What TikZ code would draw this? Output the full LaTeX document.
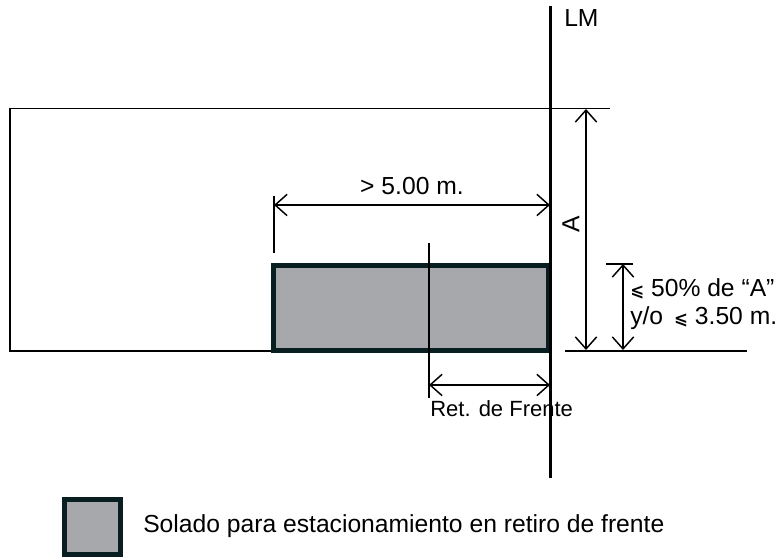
\documentclass[tikz,border=0pt]{standalone}
\usepackage{fontspec}
\setmainfont{Liberation Sans}
\newfontfamily\symfont{DejaVu Sans}
\usetikzlibrary{arrows.meta}
\definecolor{solado}{RGB}{166,168,171}
\definecolor{borde}{RGB}{8,30,32}
\tikzset{
  x=0.75pt,y=-0.75pt,
  thinline/.style={draw=black,line width=1.3pt},
  lmline/.style={draw=black,line width=2.25pt},
  dim/.style={draw=black,line width=1.3pt,{Straight Barb[length=9pt,width=16pt,line width=1.1pt]}-{Straight Barb[length=9pt,width=16pt,line width=1.1pt]}},
  soladobox/.style={draw=borde,fill=solado,line width=3.75pt,inner sep=0pt},
  lbl/.style={inner sep=0pt,font=\fontsize{18.5pt}{22pt}\selectfont,text=black},
  smalllbl/.style={lbl,font=\fontsize{16.5pt}{20pt}\selectfont},
}
\newcommand{\lesym}{{\symfont\fontsize{12.5pt}{14pt}\selectfont\bfseries ⩽}}
\begin{document}
\begin{tikzpicture}
\useasboundingbox (0,0) rectangle (776,559);
% named points
\coordinate (lmT) at (550.5,6);
\coordinate (lmB) at (550.5,478);
\coordinate (plotTL) at (10,108.5);
\coordinate (plotBL) at (10,351);
\coordinate (topR) at (610,108.5);
\coordinate (baseL) at (565,351);
\coordinate (baseR) at (747,351);
\coordinate (tickAT) at (274,196);
\coordinate (tickAB) at (274,253);
\coordinate (dimAL) at (274,205);
\coordinate (dimAR) at (550,205);
\coordinate (retT) at (429,243);
\coordinate (retB) at (429,398);
\coordinate (retL) at (429,385);
\coordinate (retR) at (550,385);
\coordinate (aT) at (586,109);
\coordinate (aB) at (586,350);
\coordinate (pT) at (623,264);
\coordinate (pB) at (623,350);
\coordinate (pL) at (606,264);
\coordinate (pR) at (633,264);
% plot
\draw[thinline] (topR) -- (plotTL) -- (plotBL) -- (272,351);
\draw[thinline] (baseL) -- (baseR);
% paved area
\node[soladobox,minimum width=206.25pt,minimum height=63.75pt] (area) at (411,308) {};
\draw[thinline] (tickAT) -- (tickAB);
\draw[thinline] (retT) -- (retB);
\draw[lmline] (lmT) -- (lmB);
% dimensions
\draw[dim] (dimAL) -- (dimAR);
\draw[dim] (retL) -- (retR);
\draw[dim] (aT) -- (aB);
\draw[dim] (pT) -- (pB);
\draw[thinline] (pL) -- (pR);
% labels
\node[lbl,anchor=base west] (lm) at (564,27) {LM};
\node[lbl,anchor=base] (five) at (412,195) {> 5.00 m.};
\node[lbl,anchor=center,rotate=90] (a) at (571,224) {A};
\node[lbl,anchor=base west] (pct) at (630,297) {\lesym\ 50\% de “A”};
\node[lbl,anchor=base west] (yo) at (630,325) {y/o \,\lesym\ 3.50 m.};
\node[smalllbl,anchor=base west] (ret) at (430,417) {Ret. de Frente};
% legend
\node[soladobox,minimum width=42pt,minimum height=41.5pt] (box) at (92.5,527) {};
\node[lbl,anchor=base west] (ley) at (143,533) {Solado para estacionamiento en retiro de frente};
\end{tikzpicture}
\end{document}
